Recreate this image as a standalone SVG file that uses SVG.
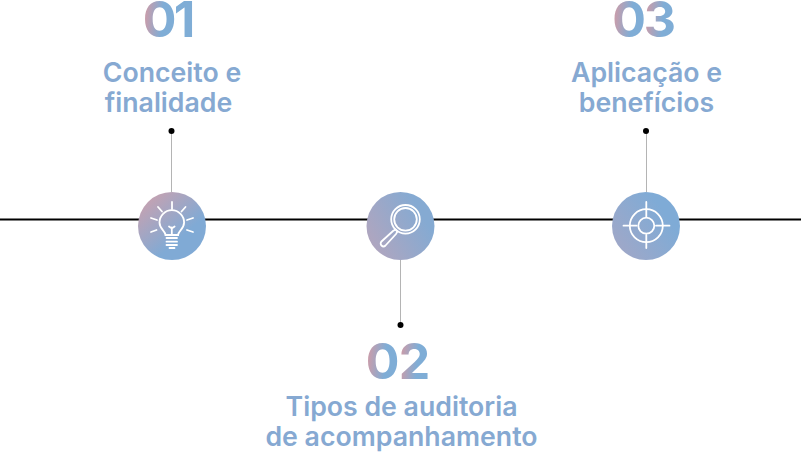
<svg xmlns="http://www.w3.org/2000/svg" width="801" height="453" viewBox="0 0 801 453">
<style>
.title{font-family:Inter,"Liberation Sans",sans-serif;font-weight:600;font-size:26.700px;fill:#86a9d2;text-anchor:middle}
.num{font-family:Inter,"Liberation Sans",sans-serif;font-weight:700;font-size:50px;text-anchor:middle}
.ic{fill:none;stroke:#fff;stroke-width:1.800;stroke-linecap:round}
.stem{stroke:#b4b4b4;stroke-width:1;fill:none}
.dot{fill:#000}
.axis{stroke:#000;stroke-width:2}
</style>
<defs>
<linearGradient id="gd" x1="0" y1="0" x2="1" y2="0.15"><stop offset="0.05" stop-color="#d69aa3"/><stop offset="0.65" stop-color="#7fadd6"/></linearGradient>
<linearGradient id="g1" x1="0.15" y1="0.1" x2="0.85" y2="0.9"><stop offset="0" stop-color="#c4a2b2"/><stop offset="0.7" stop-color="#80aad5"/></linearGradient>
<linearGradient id="g2" x1="0" y1="0.85" x2="1" y2="0.3"><stop offset="0" stop-color="#b4a5bd"/><stop offset="0.85" stop-color="#85aad2"/></linearGradient>
<linearGradient id="g3" x1="0" y1="0.9" x2="1" y2="0.2"><stop offset="0" stop-color="#a3a7c6"/><stop offset="0.8" stop-color="#7fabd6"/></linearGradient>
</defs>
<g id="connectors">
<line class="axis" x1="0" y1="219.500" x2="801" y2="219.500"/>
<line class="stem" x1="171.500" y1="131" x2="171.500" y2="192"/>
<line class="stem" x1="400.500" y1="260" x2="400.500" y2="325"/>
<line class="stem" x1="646.500" y1="131" x2="646.500" y2="192"/>
<circle class="dot" cx="171.500" cy="131" r="3"/>
<circle class="dot" cx="400.500" cy="325" r="3"/>
<circle class="dot" cx="646" cy="131" r="3"/>
</g>
<g id="node-1">
<circle cx="172" cy="226" r="34" fill="url(#g1)"/>
<g class="ic">
<path d="M165.500 235c0-4-6-6-6-12.500a12.300 12.300 0 0 1 24.600 0c0 6.500-6 8.500-6 12.500z"/>
<path d="M171.800 235v-7.500M169 226.500l2.800 2 2.800-2"/>
<path d="M166.500 238h10.500M166.500 241.700h10.500M166.500 245h10.500M169.500 248h5"/>
<path d="M172 202v7M158 207l4 4.500M185.500 207l-4 4.500M151 218l6 2M193 218l-6 2M151 232l5.500-2M193 232l-6-2"/>
</g>
<text class="num" x="159.500" y="37" fill="url(#gd)">0</text>
<text class="num" x="184.500" y="37" fill="#7fadd6">1</text>
<text class="title" x="172" y="82">Conceito e</text>
<text class="title" x="168.500" y="112">finalidade</text>
</g>
<g id="node-2">
<circle cx="400.500" cy="226" r="34" fill="url(#g2)"/>
<g class="ic">
<circle cx="405.500" cy="219.300" r="14.300"/>
<circle cx="405.500" cy="219.300" r="11.300"/>
<path d="M395.500 229.500l-2.500 1.500-11.500 10.500a2.800 2.800 0 0 0 4 4l10.500-11.500 1.500-2.500z"/>
</g>
<text class="num" x="382.500" y="379" fill="url(#gd)">0</text>
<text class="num" x="414.500" y="379" fill="url(#gd)">2</text>
<text class="title" x="401.500" y="416">Tipos de auditoria</text>
<text class="title" x="401.500" y="446">de acompanhamento</text>
</g>
<g id="node-3">
<circle cx="646" cy="226" r="34" fill="url(#g3)"/>
<g class="ic">
<circle cx="646.300" cy="225.700" r="8"/>
<circle cx="646.300" cy="225.700" r="16.500"/>
<path d="M646.300 202v15M646.300 235v13M623.500 225.700h13M656 225.700h13.500"/>
</g>
<text class="num" x="629" y="37" fill="url(#gd)">0</text>
<text class="num" x="660" y="37" fill="url(#gd)">3</text>
<text class="title" x="646.500" y="82">Aplicação e</text>
<text class="title" x="646.500" y="112">benefícios</text>
</g>
</svg>
